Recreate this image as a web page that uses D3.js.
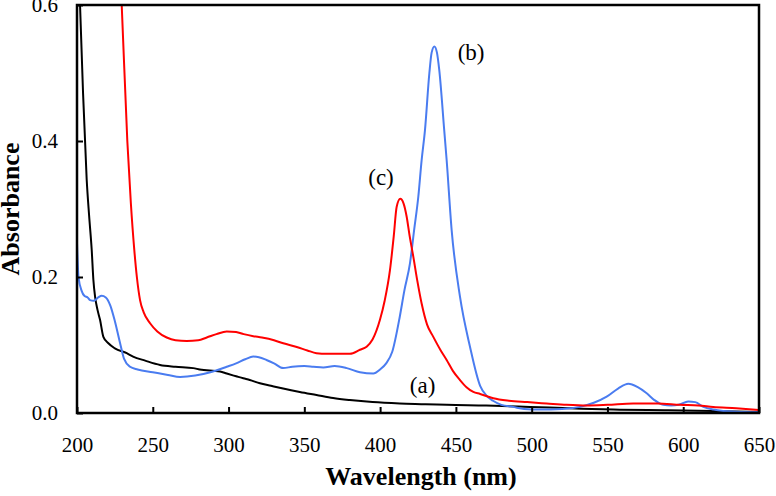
<!doctype html>
<html>
<head>
<meta charset="utf-8"/>
<title>Absorbance spectra</title>
<script src="https://d3js.org/d3.v7.min.js"></script>
<style>
body { margin: 0; background: #fff; }
</style>
</head>
<body>
<svg id="chart"></svg>
<script>
// spectrum (a) - black
const wlA = [200, 202, 204, 206.4, 208, 209.7, 210.8, 212, 213.5, 215.2, 217.4, 220.7, 225, 232.8, 237, 245, 254.8, 265, 276.7, 281, 294.4, 298.8, 305, 309.7, 314, 320.7, 328, 336, 347, 358, 369, 380, 395, 413, 430, 444, 470, 499, 525, 554, 590, 620, 650];
const absA = [0.75, 0.6, 0.47, 0.343, 0.29, 0.24, 0.196, 0.17, 0.152, 0.137, 0.112, 0.1025, 0.095, 0.088, 0.083, 0.077, 0.0706, 0.068, 0.066, 0.064, 0.061, 0.058, 0.054, 0.051, 0.0485, 0.0437, 0.04, 0.036, 0.031, 0.0265, 0.022, 0.019, 0.016, 0.014, 0.013, 0.012, 0.011, 0.009, 0.007, 0.005, 0.004, 0.003, 0.0015];

// spectrum (b) - blue
const wlB = [200, 201, 203, 205, 207, 208.6, 211, 214, 216.3, 219, 222, 225, 228.4, 231, 235, 240, 250, 260, 268, 278, 288, 298.8, 305, 311, 316.3, 320, 325, 330, 336, 342, 350, 356, 362.5, 370, 378, 386.7, 395.5, 400, 404, 408, 413, 416, 419.7, 422.5, 425.2, 427.4, 429.6, 432.5, 434, 435.8, 437.5, 439, 442.3, 443.9, 447.2, 452.7, 459.3, 466, 470, 474.5, 480, 487.7, 495, 505.5, 520, 531.9, 541, 549.5, 557, 563.8, 570, 575.9, 581, 586.8, 592, 597, 603.3, 608, 613.3, 620, 626.4, 635, 650];
const absB = [0.25, 0.2, 0.18, 0.172, 0.17, 0.166, 0.165, 0.17, 0.1725, 0.17, 0.158, 0.135, 0.103, 0.08, 0.068, 0.064, 0.06, 0.056, 0.053, 0.055, 0.06, 0.068, 0.073, 0.079, 0.083, 0.082, 0.078, 0.073, 0.066, 0.068, 0.069, 0.068, 0.067, 0.069, 0.066, 0.06, 0.058, 0.064, 0.073, 0.09, 0.142, 0.18, 0.22, 0.27, 0.318, 0.372, 0.416, 0.5, 0.53, 0.539, 0.53, 0.505, 0.416, 0.372, 0.269, 0.171, 0.0975, 0.04, 0.026, 0.018, 0.012, 0.009, 0.006, 0.005, 0.006, 0.009, 0.015, 0.024, 0.036, 0.043, 0.038, 0.029, 0.019, 0.012, 0.011, 0.012, 0.017, 0.016, 0.009, 0.005, 0.003, 0.002, 0.001];

// spectrum (c) - red
const wlC = [226, 229.5, 233.2, 235.5, 237.8, 239.5, 241.6, 244, 248.2, 253, 259.2, 265, 272.4, 280, 285.6, 292, 298.8, 305, 310, 316.3, 322, 330, 336.1, 345, 352, 358, 365, 372, 380.1, 386.7, 391.1, 395, 399.9, 403, 406.5, 409, 410.9, 413.3, 415.5, 417.5, 419.5, 421.9, 424.5, 427.4, 431, 435.1, 440, 443.9, 448, 452.7, 457, 461.5, 466, 474.7, 485, 497, 509.9, 523, 536.3, 550, 567, 583, 597.9, 610, 619.8, 635, 650];
const absC = [0.75, 0.6, 0.4, 0.31, 0.24, 0.2, 0.166, 0.148, 0.132, 0.12, 0.111, 0.107, 0.106, 0.107, 0.111, 0.116, 0.12, 0.119, 0.116, 0.113, 0.111, 0.107, 0.1025, 0.097, 0.092, 0.088, 0.087, 0.087, 0.087, 0.093, 0.0975, 0.108, 0.137, 0.165, 0.21, 0.26, 0.303, 0.315, 0.308, 0.289, 0.26, 0.23, 0.195, 0.161, 0.13, 0.112, 0.092, 0.078, 0.062, 0.0485, 0.038, 0.031, 0.028, 0.0216, 0.018, 0.016, 0.014, 0.012, 0.011, 0.012, 0.014, 0.014, 0.012, 0.011, 0.009, 0.007, 0.0045];

const xTicks = [200, 250, 300, 350, 400, 450, 500, 550, 600, 650];
const yTicks = [0.0, 0.2, 0.4, 0.6];

const labelText = ['(a)', '(b)', '(c)'];
const labelWl = [428, 460, 400.6];
const labelAbs = [0.029, 0.519, 0.335];

const W = 776, H = 496;
const margin = {left: 77, top: 5, right: 17, bottom: 83};
const iw = W - margin.left - margin.right;
const ih = H - margin.top - margin.bottom;
const serif = "'Liberation Serif', 'Times New Roman', serif";

const svg = d3.select('#chart').attr('width', W).attr('height', H);
const g = svg.append('g').attr('transform', `translate(${margin.left},${margin.top})`);

const x = d3.scaleLinear().domain([200, 650]).range([0, iw]);
const y = d3.scaleLinear().domain([0, 0.6]).range([ih, 0]);

g.append('clipPath').attr('id', 'plotclip')
    .append('rect').attr('width', iw).attr('height', ih);

const line = d3.line()
    .x(d => x(d[0]))
    .y(d => y(d[1]))
    .curve(d3.curveMonotoneX);

const series = [
    {wl: wlA, ab: absA, color: '#000000'},
    {wl: wlB, ab: absB, color: '#4a7cf0'},
    {wl: wlC, ab: absC, color: '#ff0000'}
];

series.forEach(s => {
    g.append('path')
        .datum(s.wl.map((w, i) => [w, s.ab[i]]))
        .attr('clip-path', 'url(#plotclip)')
        .attr('fill', 'none')
        .attr('stroke', s.color)
        .attr('stroke-width', 2)
        .attr('d', line);
});

// axes, ticks pointing inwards
const xAxis = g.append('g')
    .attr('transform', `translate(0,${ih})`)
    .call(d3.axisBottom(x).tickValues(xTicks).tickSizeInner(-6).tickSizeOuter(0).tickPadding(24));
const yAxis = g.append('g')
    .call(d3.axisLeft(y).tickValues(yTicks).tickFormat(d3.format('.1f')).tickSizeInner(-6).tickSizeOuter(0).tickPadding(19));

[xAxis, yAxis].forEach(a => {
    a.attr('font-family', serif).attr('font-size', 21);
    a.select('.domain').remove();
    a.selectAll('line').attr('stroke', '#000').attr('stroke-width', 2);
    a.selectAll('text').attr('fill', '#000');
});

g.append('rect')
    .attr('width', iw).attr('height', ih)
    .attr('fill', 'none').attr('stroke', '#000').attr('stroke-width', 2.5);

// curve labels
labelText.forEach((t, i) => {
    g.append('text')
        .attr('x', x(labelWl[i]))
        .attr('y', y(labelAbs[i]))
        .attr('text-anchor', 'middle')
        .style('font-family', serif)
        .style('font-size', '23px')
        .text(t);
});

// axis titles
svg.append('text')
    .attr('x', 421)
    .attr('y', 485)
    .attr('text-anchor', 'middle')
    .style('font-family', serif).style('font-size', '26px').style('font-weight', 'bold')
    .text('Wavelength (nm)');

svg.append('text')
    .attr('transform', `translate(19,${margin.top + ih / 2}) rotate(-90)`)
    .attr('text-anchor', 'middle')
    .style('font-family', serif).style('font-size', '26px').style('font-weight', 'bold')
    .text('Absorbance');
</script>
</body>
</html>
